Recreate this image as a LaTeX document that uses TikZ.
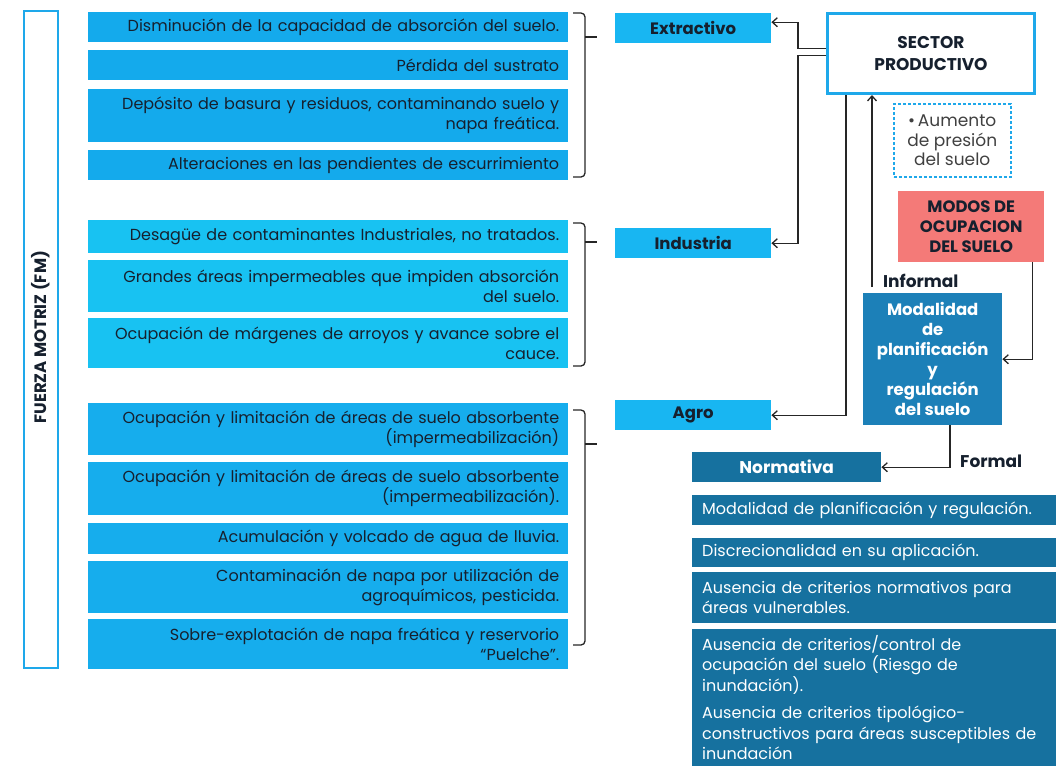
\documentclass[tikz,border=0pt]{standalone}
\usepackage{fontspec}
\setmainfont{Poppins}
\usetikzlibrary{arrows.meta,calc}
\definecolor{cE}{HTML}{14AAEC}
\definecolor{cI}{HTML}{18C2F2}
\definecolor{cA}{HTML}{16ADED}
\definecolor{cLab}{HTML}{18B6F2}
\definecolor{txt}{HTML}{16202E}
\definecolor{secb}{HTML}{1EA8EA}
\definecolor{salmon}{HTML}{F47A78}
\definecolor{modal}{HTML}{1C80B8}
\definecolor{dark}{HTML}{16719F}
\begin{document}
\begin{tikzpicture}[x=1pt,y=-1pt,
  lbox/.style={anchor=north west, inner xsep=9pt, inner ysep=0pt, text width=462pt, align=right, text=txt, font=\fontsize{16}{20}\selectfont},
  lab/.style={anchor=north west, inner sep=0pt, minimum width=156pt, minimum height=30pt, fill=cLab, text=txt, font=\bfseries\fontsize{16.5}{18}\selectfont},
  rbox/.style={anchor=north west, inner xsep=10pt, inner ysep=0pt, text width=344pt, align=left, fill=dark, text=white, font=\fontsize{16}{20.5}\selectfont},
  arr/.style={-{Straight Barb[length=5pt,width=9pt]}, line width=1.3pt, black!85},
  brace/.style={line width=1.3pt, black!85, rounded corners=4pt}
]
\useasboundingbox (0,0) rectangle (1058,766);

% Fuerza motriz
\node[draw=secb, line width=1.5pt, anchor=north west, minimum width=34pt, minimum height=657pt, inner sep=0pt] (fm) at (23,10) {};
\node[rotate=90, font=\bfseries\fontsize{16.5}{18}\selectfont, text=txt] (fmt) at ([yshift=2pt]fm.center) {FUERZA MOTRIZ (FM)};

% Extractivo group
\node[lbox, fill=cE, minimum height=30pt] (e1) at (88,12) {Disminución de la capacidad de absorción del suelo.};
\node[lbox, fill=cE, minimum height=30pt] (e2) at (88,50) {Pérdida del sustrato};
\node[lbox, fill=cE, minimum height=53pt] (e3) at (88,89) {Depósito de basura y residuos, contaminando suelo y\\ napa freática.};
\node[lbox, fill=cE, minimum height=30pt] (e4) at (88,150) {Alteraciones en las pendientes de escurrimiento};

% Industria group
\node[lbox, fill=cI, minimum height=33pt] (i1) at (88,220) {Desagüe de contaminantes Industriales, no tratados.};
\node[lbox, fill=cI, minimum height=52pt] (i2) at (88,260) {Grandes áreas impermeables que impiden absorción\\ del suelo.};
\node[lbox, fill=cI, minimum height=50pt] (i3) at (88,318) {Ocupación de márgenes de arroyos y avance sobre el\\ cauce.};

% Agro group
\node[lbox, fill=cA, minimum height=52pt] (a1) at (88,403) {Ocupación y limitación de áreas de suelo absorbente\\ (impermeabilización)};
\node[lbox, fill=cA, minimum height=53pt] (a2) at (88,462) {Ocupación y limitación de áreas de suelo absorbente\\ (impermeabilización).};
\node[lbox, fill=cA, minimum height=31pt] (a3) at (88,523) {Acumulación y volcado de agua de lluvia.};
\node[lbox, fill=cA, minimum height=52pt] (a4) at (88,561) {Contaminación de napa por utilización de\\ agroquímicos, pesticida.};
\node[lbox, fill=cA, minimum height=50pt] (a5) at (88,619) {Sobre-explotación de napa freática y reservorio\\ “Puelche”.};

% Braces
\draw[brace] (573,13) -- (585,13) -- (585,177) -- (573,177);
\draw[line width=1.3pt, black!85] (585,37) -- (597,37);
\draw[brace] (573,223) -- (585,223) -- (585,366) -- (573,366);
\draw[line width=1.3pt, black!85] (585,242) -- (597,242);
\draw[brace] (573,410) -- (585,410) -- (585,645) -- (573,645);
\draw[line width=1.3pt, black!85] (585,444) -- (597,444);

% Labels
\node[lab] (extr) at (615,13) {Extractivo};
\node[lab] (ind) at (615,228) {Industria};
\node[lab] (agro) at (615,400) {Agro};

% Sector productivo
\node[draw=secb, line width=3pt, fill=white, anchor=north west, minimum width=207pt, minimum height=80pt, align=center, text=txt, font=\bfseries\fontsize{17}{22}\selectfont] (sector) at (826,12) {SECTOR\\ PRODUCTIVO};

% Dashed box
\node[draw=secb, dash pattern=on 3pt off 2pt, line width=1.5pt, anchor=north west, minimum width=117pt, minimum height=73pt, inner sep=0pt, align=center, text=black!75, font=\fontsize{17}{19.5}\selectfont] (pres) at (893,103) {\textbullet\,Aumento\\ de presión\\ del suelo};

% Modos de ocupacion
\node[fill=salmon, anchor=north west, minimum width=146pt, minimum height=71pt, inner sep=0pt, align=center, text=txt, font=\bfseries\fontsize{16.5}{20}\selectfont] (modos) at (898,191) {MODOS DE\\ OCUPACION\\ DEL SUELO};

\node[anchor=west, inner sep=0pt, text=txt, font=\bfseries\fontsize{17}{18}\selectfont] (inf) at (883,281) {Informal};

% Modalidad
\node[fill=modal, anchor=north west, minimum width=139pt, minimum height=132pt, inner sep=0pt, align=center, text=white, font=\bfseries\fontsize{16.5}{20}\selectfont] (modal) at (863,293) {Modalidad\\ de\\ planificación\\ y\\ regulación\\ del suelo};

\node[anchor=west, inner sep=0pt, text=txt, font=\bfseries\fontsize{17}{18}\selectfont] (formal) at (960,461) {Formal};

% Normativa
\node[fill=dark, anchor=north west, minimum width=189pt, minimum height=30pt, inner sep=0pt, text=white, font=\bfseries\fontsize{17}{18}\selectfont] (norm) at (692,452) {Normativa};

% Right boxes
\node[rbox, minimum height=30pt] (r1) at (692,495) {Modalidad de planificación y regulación.};
\node[rbox, minimum height=29pt] (r2) at (692,538) {Discrecionalidad en su aplicación.};
\node[rbox, minimum height=51pt] (r3) at (692,572) {Ausencia de criterios normativos para\\ áreas vulnerables.};
\node[rbox, minimum height=137pt] (r4) at (692,629) {Ausencia de criterios/control de\\ ocupación del suelo (Riesgo de\\ inundación).\\[7pt] Ausencia de criterios tipológico-\\ constructivos para áreas susceptibles de\\ inundación};

% Connectors
\draw[arr] ([yshift=5pt]sector.west) -- ++(-28pt,0) |- ([yshift=6pt]extr.east);
\draw[arr] ([yshift=-2pt]sector.west) -- ++(-28pt,0) |- (ind.east);
\draw[arr] ([xshift=20pt]sector.south west) |- (agro.east);
\draw[arr] ([xshift=9pt,yshift=6pt]modal.north west) -- ([xshift=9pt]modal.north west |- sector.south);
\draw[arr] ([xshift=-12pt]modos.south east) |- (modal.east);
\draw[arr] ([xshift=87pt]modal.south west) |- (norm.east);
\end{tikzpicture}
\end{document}
